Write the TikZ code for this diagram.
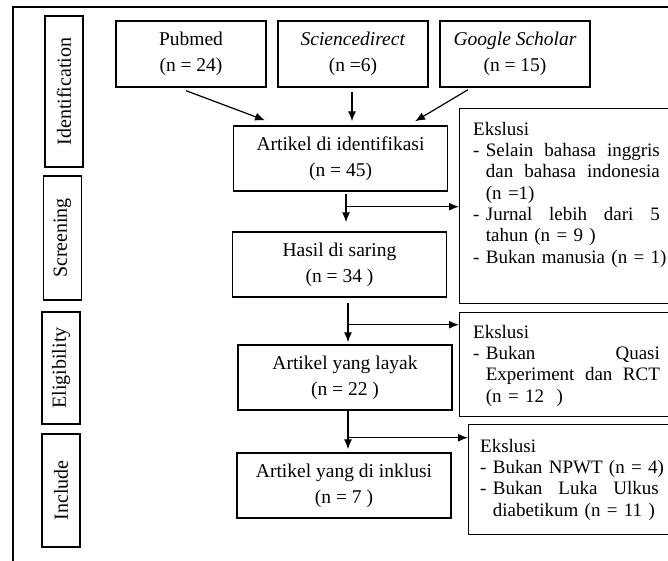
\documentclass[tikz,border=0pt]{standalone}
\usepackage{fontspec}
\setmainfont{Liberation Serif}
\usepackage{tikz}
\usetikzlibrary{arrows.meta}
\usetikzlibrary{positioning}
\usetikzlibrary{calc}
\tikzstyle{srcbox}=[draw,line width=1.4pt,minimum width=150pt,minimum height=66pt,align=center,inner sep=0pt,font=\fontsize{19.5}{26}\selectfont]
\tikzstyle{mainbox}=[draw,line width=1.4pt,minimum width=214pt,minimum height=65pt,align=center,inner sep=0pt,font=\fontsize{19.5}{26}\selectfont]
\tikzstyle{stagebox}=[draw,line width=1.4pt,rotate=90,minimum height=38pt,inner sep=0pt,font=\fontsize{20}{22}\selectfont]
\tikzstyle{exbox}=[draw,line width=1.4pt,anchor=north west,minimum width=216pt,inner sep=0pt]
\tikzstyle{extxt}=[anchor=north west,inner sep=0pt,text width=215pt,align=left,font=\fontsize{19}{21.3}\selectfont]
\tikzstyle{arr}=[line width=1.2pt,-{Latex[length=10pt,width=8pt]}]
\newcommand{\jl}[2]{\makebox[#1pt][l]{#2}}

\begin{document}
\begin{tikzpicture}[x=1pt,y=-1pt]
	\useasboundingbox (0,0) rectangle (668,560);
	\clip (0,0) rectangle (668,560);
	\draw[line width=1.1pt] (13,570) -- (13,7) -- (680,7);
	% stages
	\foreach \nm/\cx/\cy/\len in {Identification/64/91.5/151, Screening/62.5/238/124, Eligibility/61/368/112, Include/61/490.5/113}
	{
		\node[stagebox,minimum width=\len pt] (\nm) at (\cx,\cy) {\nm};
	}
	% sources
	\node[srcbox] (pubmed) at (191,54) {Pubmed\\(n = 24)};
	\node[srcbox] (scidir) at (353,54) {\textit{Sciencedirect}\\(n =6)};
	\node[srcbox] (gscholar) at (515,54) {\textit{Google Scholar}\\(n = 15)};
	% main flow
	\node[mainbox] (artikel) at (340.5,158.5) {Artikel di identifikasi\\(n = 45)};
	\node[mainbox] (hasil) at (339.5,264.5) {Hasil di saring\\(n = 34 )};
	\node[mainbox] (layak) at (345,377.5) {Artikel yang layak\\(n = 22 )};
	\node[mainbox] (inklusi) at (344,485.5) {Artikel yang di inklusi\\(n = 7 )};
	% exclusions
	\node[exbox,minimum height=195pt] (eks1) at (459,108) {};
	\node[extxt] (eks1t) at (473,122) {Ekslusi\\
		- \jl{174}{Selain\hfill bahasa\hfill inggris}\\
		\phantom{- }\jl{174}{dan\hfill bahasa\hfill indonesia}\\
		\phantom{- }(n =1)\\
		- \jl{174}{Jurnal\hfill lebih\hfill dari\hfill 5}\\
		\phantom{- }tahun (n = 9 )\\
		- Bukan manusia (n = 1)};
	\node[exbox,minimum height=104pt] (eks2) at (459,312) {};
	\node[extxt] (eks2t) at (473,325) {Ekslusi\\
		- \jl{174}{Bukan\hfill Quasi}\\
		\phantom{- }\jl{174}{Experiment\hfill dan\hfill RCT}\\
		\phantom{- }(n = 12\ \ )};
	\node[exbox,minimum height=110pt] (eks3) at (468,424) {};
	\node[extxt] (eks3t) at (480,439) {Ekslusi\\
		- Bukan NPWT (n = 4)\\
		- \jl{166}{Bukan\hfill Luka\hfill Ulkus}\\
		\phantom{- }diabetikum (n = 11 )};
	% arrows
	\draw[arr] ([xshift=-5pt,yshift=-3pt]pubmed.south) -- ([xshift=-75.5pt,yshift=5pt]artikel.north);
	\draw[arr] ([xshift=-1pt,yshift=-4pt]scidir.south) -- ([xshift=11.5pt,yshift=4pt]artikel.north);
	\draw[arr] ([xshift=-47pt,yshift=-2pt]gscholar.south) -- ([xshift=74.5pt,yshift=4pt]artikel.north);
	\coordinate (a1) at ([xshift=5.5pt,yshift=-2pt]artikel.south);
	\coordinate (b1) at ([yshift=-13pt]a1);
	\draw[arr] (a1) -- ([yshift=9pt]a1 |- hasil.north);
	\draw[arr] (b1) -- (b1 -| eks1.west);
	\coordinate (a2) at ([xshift=8.5pt,yshift=-5pt]hasil.south);
	\coordinate (b2) at ([yshift=-22pt]a2);
	\draw[arr] (a2) -- ([yshift=2pt]a2 |- layak.north);
	\draw[arr] (b2) -- (b2 -| eks2.west);
	\coordinate (a3) at ([xshift=3pt]layak.south);
	\coordinate (b3) at ([yshift=-27pt]a3);
	\draw[arr] (a3) -- ([yshift=3pt]a3 |- inklusi.north);
	\draw[arr] (b3) -- (b3 -| eks3.west);
\end{tikzpicture}
\end{document}
